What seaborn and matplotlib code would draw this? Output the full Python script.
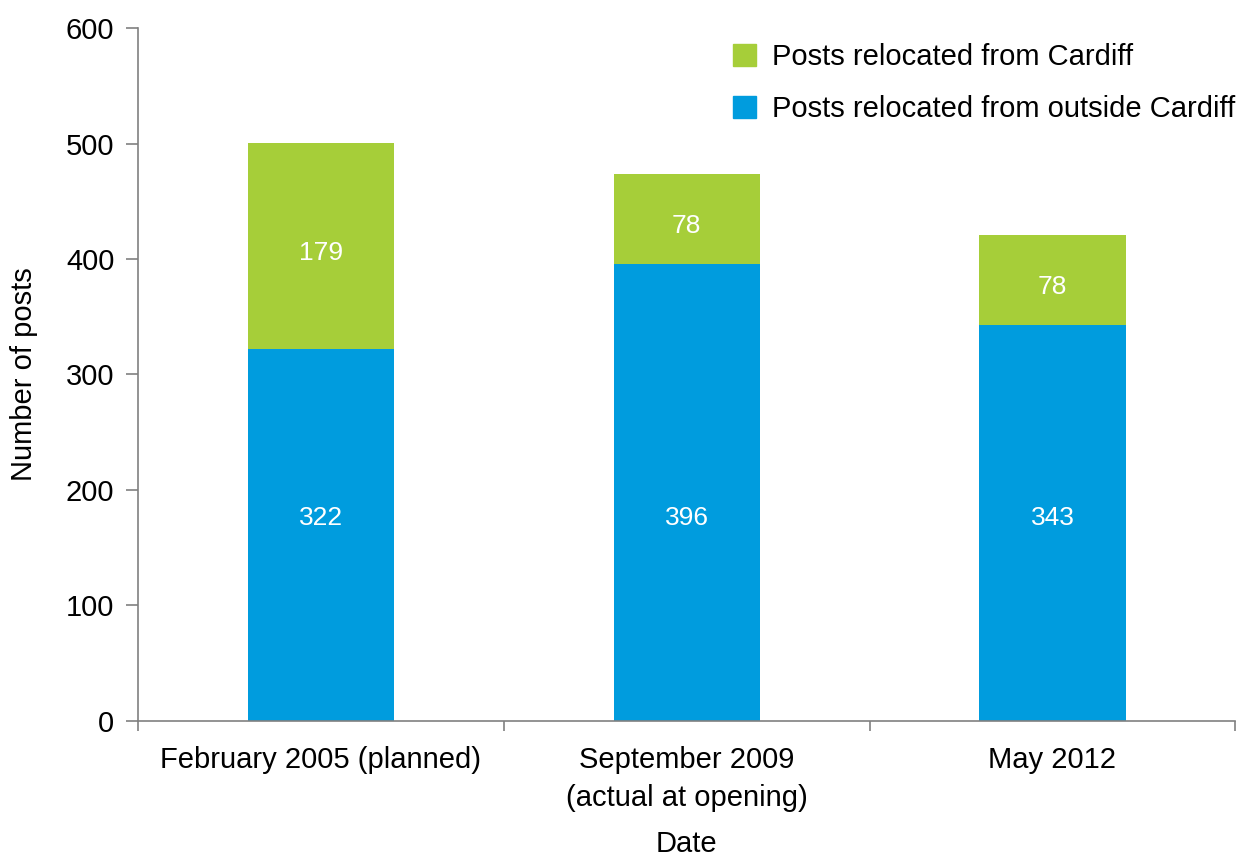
import seaborn as sns
import pandas as pd
import matplotlib.pyplot as plt
from matplotlib.patches import Patch

# Data
dates = ["February 2005 (planned)", "September 2009\n(actual at opening)", "May 2012"]
from_outside = [322, 396, 343]
from_cardiff = [179, 78, 78]

green = "#A6CE39"
blue = "#009CDE"

df = pd.DataFrame({"Date": dates, "outside": from_outside, "cardiff": from_cardiff})
df["total"] = df["outside"] + df["cardiff"]

sns.set_style("white")
plt.rcParams["font.family"] = ["Liberation Sans", "DejaVu Sans"]
plt.rcParams["text.color"] = "black"
plt.rcParams["xtick.color"] = "black"
plt.rcParams["ytick.color"] = "black"
plt.rcParams["axes.labelcolor"] = "black"

fig = plt.figure(figsize=(12.44, 8.56), dpi=100)
ax = fig.add_axes([0.111, 0.158, 0.882, 0.809])

# stacked: draw total (green) then outside (blue) on top of it
sns.barplot(data=df, x="Date", y="total", color=green, width=0.4, saturation=1, linewidth=0, ax=ax)
sns.barplot(data=df, x="Date", y="outside", color=blue, width=0.4, saturation=1, linewidth=0, ax=ax)

# value labels
for i, row in df.iterrows():
    ax.text(i, 176, str(row["outside"]), color="white", ha="center", va="center", fontsize=19)
    ax.text(i, row["outside"] + row["cardiff"] / 2 - 6, str(row["cardiff"]), color="white",
            ha="center", va="center", fontsize=19)

ax.set_ylim(0, 600)
ax.set_xlim(-0.5, 2.5)
ax.set_yticks(range(0, 601, 100))
ax.tick_params(axis="y", labelsize=21, length=9, width=1.2, color="#808080", direction="out", left=True, pad=8)

# category boundaries as major ticks, labels on minor ticks
ax.set_xticks([-0.5, 0.5, 1.5, 2.5])
ax.set_xticklabels([])
ax.set_xticks([0, 1, 2], minor=True)
ax.set_xticklabels(dates, minor=True, fontsize=21, linespacing=1.45)
ax.tick_params(axis="x", which="major", length=7, width=1.2, color="#808080", direction="out", bottom=True)
ax.tick_params(axis="x", which="minor", length=0, pad=18)

for s in ["top", "right"]:
    ax.spines[s].set_visible(False)
for s in ["left", "bottom"]:
    ax.spines[s].set_color("#808080")
    ax.spines[s].set_linewidth(1.2)

ax.set_xlabel("Date", fontsize=21, labelpad=13)
ax.set_ylabel("Number of posts", fontsize=21, labelpad=20)

handles = [Patch(color=green, label="Posts relocated from Cardiff"),
           Patch(color=blue, label="Posts relocated from outside Cardiff")]
ax.legend(handles=handles, loc="upper right", bbox_to_anchor=(1.024, 1.016), frameon=False,
          fontsize=21, handlelength=0.8, handleheight=0.8, handletextpad=0.55, labelspacing=0.82)

fig.savefig("out.png", dpi=100)
